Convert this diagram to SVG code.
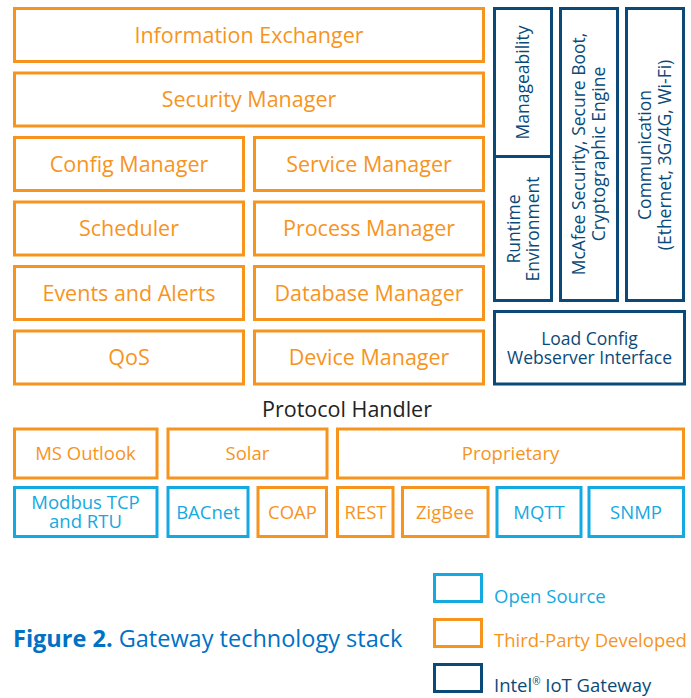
<svg xmlns="http://www.w3.org/2000/svg" width="691" height="698" viewBox="0 0 691 698">
  <style>
    .box { fill: #ffffff; stroke-width: 3; }
    .tp { stroke: #F7941E; }
    .os { stroke: #15A9E1; }
    .ig { stroke: #0B4A78; }
    text { font-family: "Open Sans", "Noto Sans", "DejaVu Sans", sans-serif; text-anchor: middle; }
    .t-tp { fill: #F7941E; font-size: 21.5px; }
    .t-tp-s { fill: #F7941E; font-size: 18.5px; }
    .t-os { fill: #15A9E1; font-size: 18.5px; }
    .t-ig { fill: #0B4A78; font-size: 17.5px; }
    .t-head { fill: #222222; font-size: 21.5px; }
    .legend { font-size: 18.5px; text-anchor: start; }
  </style>
  <rect width="691" height="698" fill="#ffffff"/>

  <!-- application layer (third-party) -->
  <g id="information-exchanger">
    <rect class="box tp" x="14.5" y="8.5" width="469" height="53"/>
    <text class="t-tp" x="249" y="42.5">Information Exchanger</text>
  </g>
  <g id="security-manager">
    <rect class="box tp" x="14.5" y="73" width="469" height="53"/>
    <text class="t-tp" x="249" y="107">Security Manager</text>
  </g>
  <g id="config-manager">
    <rect class="box tp" x="14.5" y="137.5" width="229" height="53"/>
    <text class="t-tp" x="129" y="171.5">Config Manager</text>
  </g>
  <g id="service-manager">
    <rect class="box tp" x="254.5" y="137.5" width="229" height="53"/>
    <text class="t-tp" x="369" y="171.5">Service Manager</text>
  </g>
  <g id="scheduler">
    <rect class="box tp" x="14.5" y="202" width="229" height="53"/>
    <text class="t-tp" x="129" y="236">Scheduler</text>
  </g>
  <g id="process-manager">
    <rect class="box tp" x="254.5" y="202" width="229" height="53"/>
    <text class="t-tp" x="369" y="236">Process Manager</text>
  </g>
  <g id="events-and-alerts">
    <rect class="box tp" x="14.5" y="266.5" width="229" height="53"/>
    <text class="t-tp" x="129" y="300.5">Events and Alerts</text>
  </g>
  <g id="database-manager">
    <rect class="box tp" x="254.5" y="266.5" width="229" height="53"/>
    <text class="t-tp" x="369" y="300.5">Database Manager</text>
  </g>
  <g id="qos">
    <rect class="box tp" x="14.5" y="331" width="229" height="53"/>
    <text class="t-tp" x="129" y="365">QoS</text>
  </g>
  <g id="device-manager">
    <rect class="box tp" x="254.5" y="331" width="229" height="53"/>
    <text class="t-tp" x="369" y="365">Device Manager</text>
  </g>

  <!-- platform columns (Intel IoT Gateway) -->
  <g id="manageability">
    <rect class="box ig" x="494.5" y="8.5" width="57" height="148"/>
    <text class="t-ig" transform="translate(529 82.5) rotate(-90)">Manageability</text>
  </g>
  <g id="runtime-environment">
    <rect class="box ig" x="494.5" y="156.5" width="57" height="144"/>
    <text class="t-ig" transform="translate(519.5 229) rotate(-90)">Runtime</text>
    <text class="t-ig" transform="translate(539 229) rotate(-90)">Environment</text>
  </g>
  <g id="mcafee-security">
    <rect class="box ig" x="560.5" y="8.5" width="57" height="292"/>
    <text class="t-ig" transform="translate(585 154) rotate(-90)">McAfee Security, Secure Boot,</text>
    <text class="t-ig" transform="translate(604.5 154) rotate(-90)">Cryptographic Engine</text>
  </g>
  <g id="communication">
    <rect class="box ig" x="626.5" y="8.5" width="57" height="292"/>
    <text class="t-ig" transform="translate(651 155) rotate(-90)">Communication</text>
    <text class="t-ig" transform="translate(670.5 155) rotate(-90)">(Ethernet, 3G/4G, Wi-Fi)</text>
  </g>
  <g id="load-config">
    <rect class="box ig" x="494.5" y="311.5" width="190" height="72.5"/>
    <text class="t-ig" x="589.5" y="344.5">Load Config</text>
    <text class="t-ig" x="589.5" y="364">Webserver Interface</text>
  </g>

  <!-- protocol handler -->
  <g id="protocol-handler">
    <text class="t-head" x="347" y="417">Protocol Handler</text>
  </g>
  <g id="ms-outlook">
    <rect class="box tp" x="14.5" y="429" width="142.5" height="49"/>
    <text class="t-tp-s" x="85.5" y="459.5">MS Outlook</text>
  </g>
  <g id="solar">
    <rect class="box tp" x="168" y="429" width="159" height="49"/>
    <text class="t-tp-s" x="247.5" y="459.5">Solar</text>
  </g>
  <g id="proprietary">
    <rect class="box tp" x="337.5" y="429" width="346" height="49"/>
    <text class="t-tp-s" x="510.5" y="459.5">Proprietary</text>
  </g>
  <g id="modbus">
    <rect class="box os" x="14.5" y="487.5" width="142.5" height="49"/>
    <text class="t-os" x="85.5" y="508.5">Modbus TCP</text>
    <text class="t-os" x="85.5" y="528">and RTU</text>
  </g>
  <g id="bacnet">
    <rect class="box os" x="168" y="487.5" width="80" height="49"/>
    <text class="t-os" x="208" y="518.5">BACnet</text>
  </g>
  <g id="coap">
    <rect class="box tp" x="258" y="487.5" width="68.5" height="49"/>
    <text class="t-tp-s" x="292.5" y="518.5">COAP</text>
  </g>
  <g id="rest">
    <rect class="box tp" x="337.5" y="487.5" width="55.5" height="49"/>
    <text class="t-tp-s" x="365.5" y="518.5">REST</text>
  </g>
  <g id="zigbee">
    <rect class="box tp" x="402.5" y="487.5" width="85.5" height="49"/>
    <text class="t-tp-s" x="445" y="518.5">ZigBee</text>
  </g>
  <g id="mqtt">
    <rect class="box os" x="497" y="487.5" width="84" height="49"/>
    <text class="t-os" x="539" y="518.5">MQTT</text>
  </g>
  <g id="snmp">
    <rect class="box os" x="589" y="487.5" width="94.5" height="49"/>
    <text class="t-os" x="636" y="518.5">SNMP</text>
  </g>

  <!-- caption -->
  <text x="13" y="647" style="text-anchor:start; font-size:23.5px; fill:#0071C5;"><tspan font-weight="bold">Figure 2.</tspan> Gateway technology stack</text>

  <!-- legend -->
  <g id="legend">
    <rect class="box os" x="434.5" y="574.5" width="47" height="27"/>
    <text class="legend" x="494" y="603" fill="#15A9E1">Open Source</text>
    <rect class="box tp" x="434.5" y="619.5" width="47" height="27"/>
    <text class="legend" x="494" y="647" fill="#F7941E">Third-Party Developed</text>
    <rect class="box ig" x="434.5" y="664.5" width="47" height="27"/>
    <text class="legend" x="494" y="692" fill="#0B4A78">Intel<tspan font-size="10" dy="-7">®</tspan><tspan dy="7"> IoT Gateway</tspan></text>
  </g>
</svg>
